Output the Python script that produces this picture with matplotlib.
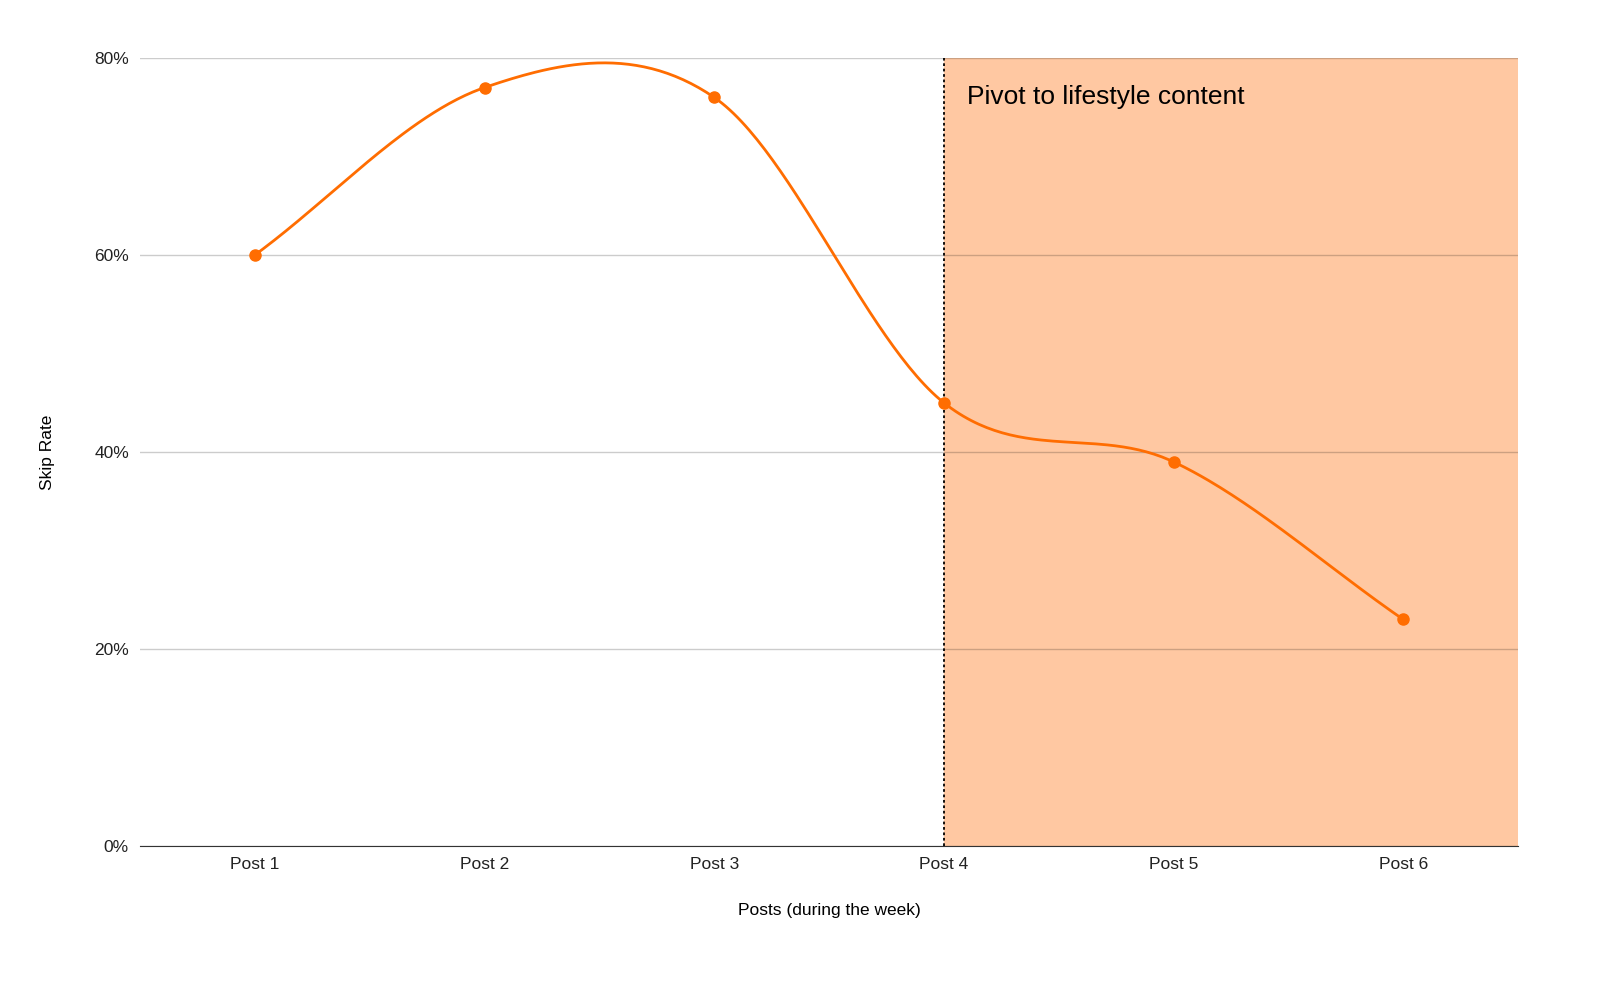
import numpy as np
import matplotlib.pyplot as plt
from matplotlib.ticker import FuncFormatter

posts = ["Post 1", "Post 2", "Post 3", "Post 4", "Post 5", "Post 6"]
skip_rate = [60, 77, 76, 45, 39, 23]
pivot_at = 4

orange = "#ff6d01"

x = np.arange(1, len(posts) + 1, dtype=float)
y = np.array(skip_rate, dtype=float)

# smooth curve through the points (catmull-rom)
px = np.concatenate([[2 * x[0] - x[1]], x, [2 * x[-1] - x[-2]]])
py = np.concatenate([[2 * y[0] - y[1]], y, [2 * y[-1] - y[-2]]])
sx, sy = [], []
t = np.linspace(0, 1, 60)
for i in range(1, len(px) - 2):
    p0, p1, p2, p3 = py[i - 1], py[i], py[i + 1], py[i + 2]
    sy.append(0.5 * (2 * p1 + (-p0 + p2) * t + (2 * p0 - 5 * p1 + 4 * p2 - p3) * t**2
                     + (-p0 + 3 * p1 - 3 * p2 + p3) * t**3))
    sx.append(px[i] + (px[i + 1] - px[i]) * t)
sx = np.concatenate(sx)
sy = np.concatenate(sy)

fig = plt.figure(figsize=(16, 9.88), dpi=100)
ax = fig.add_axes([0.0875, 0.1437, 0.8613, 0.7976])

ax.axvspan(pivot_at, 6.5, ymin=0, ymax=1, color="#ffc8a2", zorder=0)
ax.axvline(pivot_at, color="black", linestyle=(0, (1.5, 1.5)), lw=1.3, zorder=3)
ax.plot(sx, sy, color=orange, lw=2, zorder=4)
ax.plot(x, y, "o", color=orange, ms=8, zorder=5)
ax.text(pivot_at + 0.1, 76, "Pivot to lifestyle content", fontsize=19,
        family="Liberation Sans", va="center")

ax.set_xlim(0.5, 6.5)
ax.set_ylim(0, 80)
ax.set_yticks([0, 20, 40, 60, 80])
ax.yaxis.set_major_formatter(FuncFormatter(lambda v, p: f"{v:.0f}%"))
ax.set_xticks(x)
ax.set_xticklabels(posts)
ax.grid(axis="y", color="black", alpha=0.2, lw=1, zorder=1)
ax.set_axisbelow(False)
for s in ["top", "right", "left"]:
    ax.spines[s].set_visible(False)
ax.spines["bottom"].set_color("#333333")
ax.tick_params(length=0, labelsize=12.5, colors="#222222", pad=8)
for lab in ax.get_xticklabels() + ax.get_yticklabels():
    lab.set_family("Liberation Sans")
ax.set_xlabel("Posts (during the week)", fontsize=12.5, family="Liberation Sans", labelpad=22)
ax.set_ylabel("Skip Rate", fontsize=12.5, family="Liberation Sans", labelpad=28)

fig.savefig("out.png")
